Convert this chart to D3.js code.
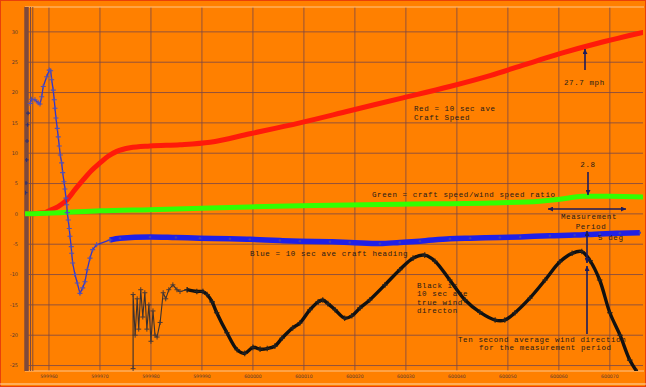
<!DOCTYPE html>
<html><head><meta charset="utf-8">
<script src="https://cdn.jsdelivr.net/npm/d3@7"></script>
<style>html,body{margin:0;padding:0;background:#ff8000;}svg{display:block;}</style>
</head><body>
<svg id="c" width="646" height="387"></svg>
<script>
// ---- data ----
const xTicks = [599960,599970,599980,599990,600000,600010,600020,600030,600040,600050,600060,600070];
const yTicks = [-25,-20,-15,-10,-5,0,5,10,15,20,25,30];

const redTime = [599955.3,599959.2,599960.2,599961.8,599963.5,599965.1,599966.7,599968.4,599970.0,599971.6,599973.3,599975.9,599979.8,599985.7,599991.6,599999.4,600009.2,600019.0,600028.8,600038.6,600046.5,600053.3,600060.2,600068.0,600076.5];
const redSpeed = [0,0.2,0.6,1.2,2.3,4.0,5.6,7.2,8.4,9.5,10.3,10.9,11.2,11.4,11.8,13.2,15.0,17.0,19.0,21.0,22.8,24.6,26.4,28.2,29.9];

const greenTime = [599955.3,599962.2,599970.0,599979.8,599995.5,600009.2,600028.8,600046.5,600056.3,600060.2,600064.7,600070.0,600076.5];
const greenRatio = [0,0.2,0.5,0.7,1.05,1.35,1.6,1.8,2.1,2.4,2.9,2.9,2.8];

const blueTime = [599955.4,599955.5,599955.6,599955.7,599955.8,599955.9,599956.3,599956.6,599957.25,599957.9,599958.24,599958.57,599958.88,599959.55,599960.06,599960.33,599960.53,599960.84,599961.04,599961.18,599961.37,599961.63,599961.82,599962.02,599962.22,599962.49,599962.69,599962.94,599963.14,599963.33,599963.47,599963.59,599963.78,599963.98,599964.12,599964.37,599964.45,599964.65,599965.1,599965.55,599966.08,599966.61,599967.06,599967.51,599968.04,599968.57,599969.35,599971.96,599973.92,599979.8,599984.9,599989.61,599995.49,599999.4,600005.29,600009.2,600015.1,600019.0,600024.9,600028.8,600032.75,600038.63,600042.6,600048.43,600052.4,600058.24,600063.1,600068.04,600071.96,600075.88];
const blueHeading = [3.5,5.1,8.9,12,14.7,16.6,18.2,18.9,18.8,18.3,18.1,19.3,21,22.6,23.7,23.6,22.1,20.4,18.8,17.4,15.8,14.1,12.7,11.2,9.7,8.4,6.8,5.3,4.1,2.6,1.5,0.2,-1,-2.4,-3.7,-5.4,-6.5,-8.1,-10,-11.4,-13.1,-12.2,-11.2,-9.2,-7.3,-5.9,-5.1,-4.3,-4.0,-3.8,-3.9,-4.0,-4.1,-4.2,-4.4,-4.5,-4.6,-4.7,-4.9,-4.7,-4.5,-4.1,-4.0,-3.9,-3.8,-3.6,-3.5,-3.3,-3.2,-3.1];

const blackTime = [599976.5,599976.5,599976.9,599977.3,599977.6,599978.0,599978.4,599978.8,599979.2,599979.6,599980.0,599980.4,599980.8,599981.2,599981.8,599982.4,599982.9,599983.5,599984.3,599985.1,599985.7,599987.1,599989.0,599990.2,599991.0,599992.0,599992.9,599994.9,599996.9,599998.4,600000.0,600001.4,600002.8,600004.3,600005.7,600007.8,600009.2,600011.2,600012.8,600013.7,600014.7,600016.1,600018.0,600019.4,600021.0,600022.9,600025.9,600028.8,600031.4,600033.7,600035.7,600038.6,600041.6,600044.5,600047.5,600049.4,600051.4,600054.3,600057.3,600060.2,600062.6,600064.5,600066.1,600068.0,600070.0,600072.0,600073.9,600075.3];
const blackDir = [-25.5,-13.3,-20,-14,-19,-12.5,-17,-13,-19,-15,-21,-16,-20,-20.3,-17.9,-13,-14,-12.5,-11.7,-12.5,-12.8,-12.5,-12.8,-12.8,-13.3,-14.5,-16.3,-19.6,-22.4,-23,-22,-22.3,-22.2,-21.8,-20.5,-18.8,-18,-15.8,-14.5,-14.2,-14.8,-15.8,-17.2,-16.8,-15.5,-14.2,-11.7,-9.2,-7.3,-6.8,-7.8,-10.9,-14.2,-16.2,-17.5,-17.5,-16.3,-13.9,-10.9,-7.9,-6.5,-6.2,-7.7,-10.9,-16.3,-20,-24.1,-26];

// ---- chart ----
const svg = d3.select('#c');
const L = 25, R = 643, T = 7, B = 371;
const x = d3.scaleLinear().domain([599955.3, 600076.5]).range([L, R]);
const y = d3.scaleLinear().domain([-25.9, 34.1]).range([B, T]);

svg.append('rect').attr('x',0).attr('y',0).attr('width',646).attr('height',387).attr('fill','#ff8000');
svg.append('rect').attr('x',0.5).attr('y',0.5).attr('width',645).attr('height',386).attr('fill','none').attr('stroke','#e8400a').attr('stroke-width',1);
svg.append('line').attr('x1',0).attr('x2',646).attr('y1',384).attr('y2',384).attr('stroke','#ffd9b0').attr('stroke-width',1.2);

svg.append('clipPath').attr('id','pc').append('rect').attr('x',L).attr('y',T).attr('width',R-L).attr('height',B-T);

// grid
const grid = svg.append('g');
grid.selectAll('.vg').data(xTicks).join('line')
  .attr('x1',d=>x(d)).attr('x2',d=>x(d)).attr('y1',T).attr('y2',B)
  .attr('stroke','#7a4848').attr('stroke-width',1).attr('opacity',0.8);
grid.selectAll('.hg').data(yTicks).join('line')
  .attr('x1',L).attr('x2',R).attr('y1',d=>y(d)).attr('y2',d=>y(d))
  .attr('stroke','#7a4848').attr('stroke-width',1).attr('opacity',0.8);
grid.append('line').attr('x1',L).attr('x2',R+1).attr('y1',T).attr('y2',T).attr('stroke','#ffc58a').attr('stroke-width',1);
grid.append('line').attr('x1',L).attr('x2',R+1).attr('y1',B).attr('y2',B).attr('stroke','#ffc58a').attr('stroke-width',1);
grid.append('line').attr('x1',L+1.5).attr('x2',L+1.5).attr('y1',T).attr('y2',B).attr('stroke','#7e4a3c').attr('stroke-width',4.5);
grid.append('line').attr('x1',L+5.5).attr('x2',L+5.5).attr('y1',T).attr('y2',B).attr('stroke','#7e4a3c').attr('stroke-width',1);
grid.append('line').attr('x1',L+7.8).attr('x2',L+7.8).attr('y1',T).attr('y2',B).attr('stroke','#7e4a3c').attr('stroke-width',1);

// tick labels
svg.append('g').selectAll('text').data(yTicks).join('text')
  .attr('x',18).attr('y',d=>y(d)).attr('dy','0.35em').attr('text-anchor','end')
  .attr('font-family','DejaVu Sans, sans-serif').attr('font-size',5).attr('fill','#5a3a30')
  .text(d=>d);
svg.append('g').selectAll('text').data(xTicks).join('text')
  .attr('x',d=>x(d)).attr('y',378).attr('text-anchor','middle')
  .attr('font-family','DejaVu Sans, sans-serif').attr('font-size',4.6).attr('fill','#5a3a30')
  .text(d=>d);

const plot = svg.append('g').attr('clip-path','url(#pc)');
const line = (xs, ys, curve) => d3.line().curve(curve||d3.curveLinear)
  .x((d,i)=>x(xs[i])).y((d,i)=>y(ys[i]))(ys);
const idx = n => d3.range(n);

// red
plot.append('path').attr('d', line(redTime, redSpeed, d3.curveMonotoneX)).attr('fill','none')
  .attr('stroke','#ff1a0a').attr('stroke-width',5).attr('stroke-linejoin','round').attr('stroke-linecap','round');
// green
plot.append('path').attr('d', line(greenTime, greenRatio, d3.curveMonotoneX)).attr('fill','none')
  .attr('stroke','#33ff00').attr('stroke-width',5).attr('stroke-linejoin','round');

const plus = (g, xs, ys, s, col, w) => g.append('g').selectAll('path').data(idx(xs.length)).join('path')
  .attr('d', i=>{const px=x(xs[i]), py=y(ys[i]); return `M${px-s},${py}H${px+s}M${px},${py-s}V${py+s}`;})
  .attr('stroke',col).attr('stroke-width',w).attr('fill','none');

// blue
const bStart = 6, bSplit = 47;
const bt1 = blueTime.slice(bStart,bSplit+1), bh1 = blueHeading.slice(bStart,bSplit+1);
const bt2 = blueTime.slice(bSplit), bh2 = blueHeading.slice(bSplit);
plot.append('path').attr('d', line(bt2, bh2, d3.curveMonotoneX)).attr('fill','none')
  .attr('stroke','#2020e6').attr('stroke-width',5.5).attr('stroke-linejoin','round');
plot.append('g').selectAll('circle').data(idx(bt2.length)).join('circle')
  .attr('cx',i=>x(bt2[i])).attr('cy',i=>y(bh2[i])).attr('r',1.2).attr('fill','#4040b0');
plot.append('path').attr('d', line(bt1, bh1)).attr('fill','none')
  .attr('stroke','#3434c8').attr('stroke-width',1.3);
plus(plot, bt1, bh1, 2.5, '#5050b8', 1.1);
plus(plot, blueTime.slice(0,bStart), blueHeading.slice(0,bStart), 2, '#303070', 1.1);

// black
const kSplit = 21;
const kt1 = blackTime.slice(0,kSplit+1), kd1 = blackDir.slice(0,kSplit+1);
const kt2 = blackTime.slice(kSplit), kd2 = blackDir.slice(kSplit);
plot.append('path').attr('d', line(kt1, kd1)).attr('fill','none').attr('stroke','#3a3030').attr('stroke-width',1.1);
plus(plot, kt1, kd1, 2.5, '#4a3a38', 1);
plot.append('path').attr('d', line(kt2, kd2, d3.curveCatmullRom)).attr('fill','none')
  .attr('stroke','#111').attr('stroke-width',3.4).attr('stroke-linejoin','round');
plus(plot, kt2, kd2, 2.8, '#222', 1.1);

// annotations
const ann = svg.append('g').attr('font-family','Liberation Mono, DejaVu Sans Mono, monospace')
  .attr('font-size',7.5).attr('letter-spacing','0.6px').attr('fill','#1e1a1a');
const txt = (t, px, py, anchor) => ann.append('text').attr('x',px).attr('y',py).attr('dy','0.35em')
  .attr('text-anchor',anchor||'start').text(t);
txt('27.7 mph', 564, 82);
txt('Red = 10 sec ave', 414, 108);
txt('Craft Speed', 414, 117);
txt('2.8', 588, 164, 'middle');
txt('Green = craft speed/wind speed ratio', 372, 194);
txt('Measurement', 589, 216, 'middle');
txt('Period', 591, 226, 'middle');
txt('5 deg', 598, 237);
txt('Blue = 10 sec ave craft heading', 250, 253);
txt('Black is', 417, 285);
txt('10 sec ave', 417, 293.5);
txt('true wind', 417, 302);
txt('directon', 417, 310.5);
txt('Ten second average wind direction', 458, 339);
txt('for the measurement period', 479, 347.5);

const arrCol = '#1c1c5c';
const defs = svg.append('defs');
defs.append('marker').attr('id','ah').attr('viewBox','0 0 10 10').attr('refX',10).attr('refY',5)
  .attr('markerWidth',5).attr('markerHeight',5).attr('orient','auto-start-reverse').attr('markerUnits','userSpaceOnUse')
  .append('path').attr('d','M0,0L10,5L0,10z').attr('fill',arrCol);
const arrow = (x1,y1,x2,y2,both) => {
  const l = svg.append('line').attr('x1',x1).attr('y1',y1).attr('x2',x2).attr('y2',y2)
    .attr('stroke',arrCol).attr('stroke-width',1.6).attr('marker-end','url(#ah)');
  if (both) l.attr('marker-start','url(#ah)');
};
arrow(585,70,585,49);
arrow(588,172,588,195);
arrow(548,209,626,209,true);
arrow(587,231,587,263,true);
arrow(587,334,587,266);
</script>
</body></html>
